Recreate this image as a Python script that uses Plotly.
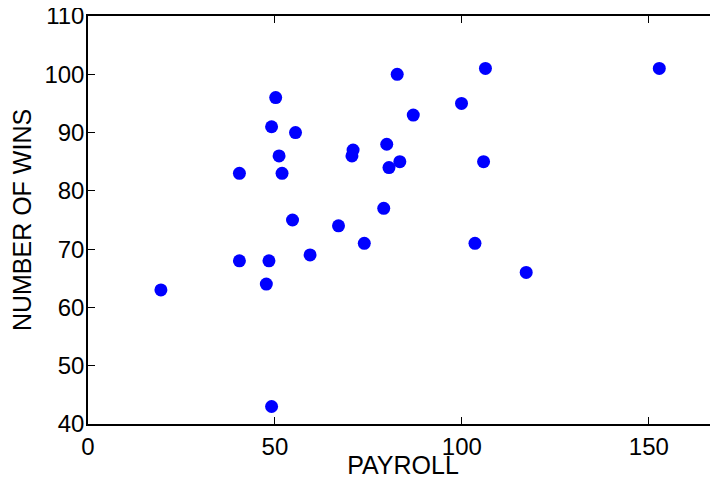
import plotly.graph_objects as go

payroll = [19.5, 40.5, 40.5, 47.7, 48.4, 49.1, 49.1, 50.2, 51.1, 51.9,
           55.5, 54.7, 59.4, 67.0, 70.9, 70.6, 73.9, 79.1, 79.9, 80.5,
           83.4, 82.7, 87.0, 99.9, 106.3, 105.8, 103.5, 117.2, 152.8]
wins = [63, 83, 68, 64, 68, 43, 91, 96, 86, 83,
        90, 75, 69, 74, 87, 86, 71, 77, 88, 84,
        85, 100, 93, 95, 101, 85, 71, 66, 101]

x_ticks = [0, 50, 100, 150]
y_ticks = [40, 50, 60, 70, 80, 90, 100, 110]

fig = go.Figure(go.Scatter(
    x=payroll, y=wins, mode="markers",
    marker=dict(color="#0000FF", size=13, line=dict(width=0)),
))

tick_font = dict(family="Liberation Sans, Arial, sans-serif", size=24, color="black")
title_font = dict(family="Liberation Sans, Arial, sans-serif", size=25, color="black")

fig.update_layout(
    width=710, height=471,
    margin=dict(l=80, r=0, t=8, b=55, autoexpand=False),
    paper_bgcolor="white", plot_bgcolor="white",
    showlegend=False,
    font=tick_font,
    xaxis=dict(
        range=[0, 168.5], tickvals=x_ticks, ticks="inside", ticklen=7,
        tickcolor="black", showline=True, linecolor="black", linewidth=1.5,
        mirror="ticks", showgrid=False, zeroline=False,
        title=dict(text="PAYROLL", standoff=0, font=title_font),
        tickfont=tick_font, automargin=False, ticklabeloverflow="allow",
    ),
    yaxis=dict(
        range=[40, 110], tickvals=y_ticks, ticks="inside", ticklen=7,
        tickcolor="black", showline=True, linecolor="black", linewidth=1.5,
        mirror=False, showgrid=False, zeroline=False,
        title=dict(text="NUMBER OF WINS", standoff=6, font=title_font),
        tickfont=tick_font, automargin=False, ticklabelstandoff=-3,
        ticklabeloverflow="allow",
    ),
)

fig.write_html("out.html")
